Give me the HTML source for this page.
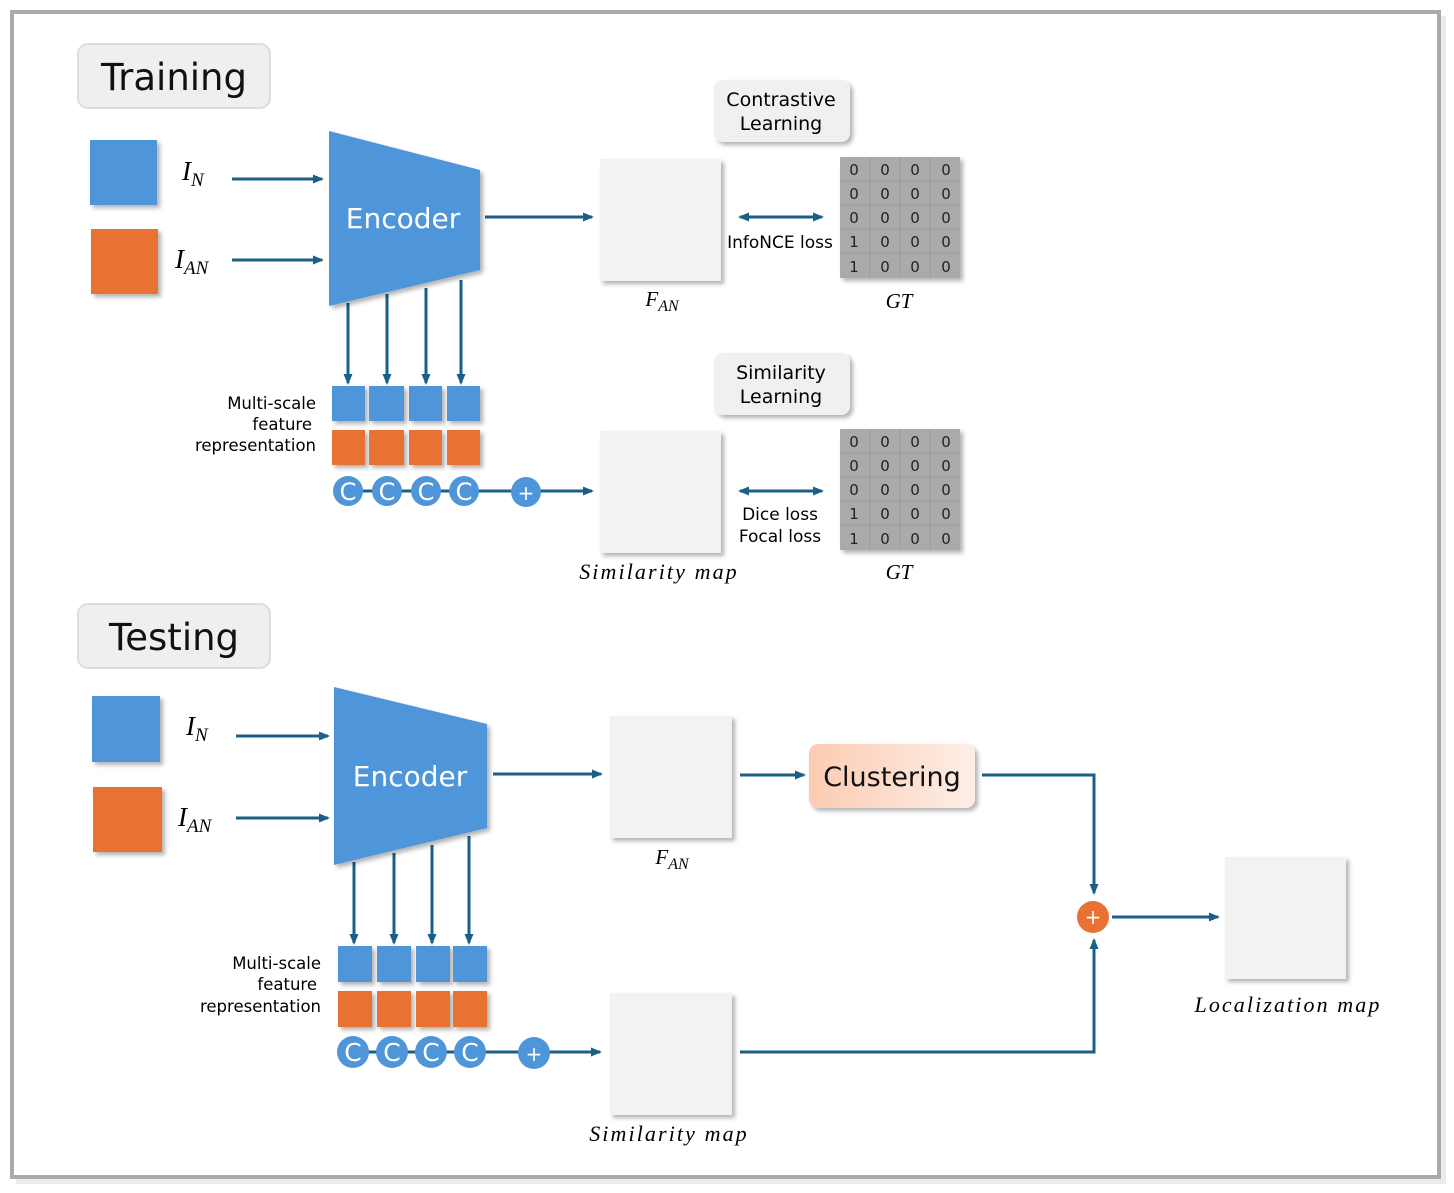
<!DOCTYPE html>
<html><head><meta charset="utf-8"><style>
body{margin:0;background:#fff;width:1454px;height:1193px;overflow:hidden}
svg{display:block}
.s{font-family:"DejaVu Sans","Liberation Sans",sans-serif}
.m{font-family:"Liberation Serif",serif;font-style:italic}
.w{letter-spacing:2.1px}
</style></head><body>
<svg width="1454" height="1193" viewBox="0 0 1454 1193" xmlns="http://www.w3.org/2000/svg">
<defs>
<marker id="a" markerWidth="11" markerHeight="11" refX="9" refY="5.5" orient="auto" markerUnits="userSpaceOnUse"><path d="M0,1 L11,5.5 L0,10 Z" fill="#1a5f85"/></marker>
<marker id="b" markerWidth="11" markerHeight="11" refX="2" refY="5.5" orient="auto" markerUnits="userSpaceOnUse"><path d="M11,1 L0,5.5 L11,10 Z" fill="#1a5f85"/></marker>
<filter id="sh" x="-20%" y="-20%" width="150%" height="150%"><feDropShadow dx="3" dy="3" stdDeviation="2" flood-color="#000" flood-opacity="0.3"/></filter>
<linearGradient id="g" x1="0" x2="1"><stop offset="0" stop-color="#fcccb2"/><stop offset="1" stop-color="#fdeee6"/></linearGradient>
</defs>
<rect x="16" y="16" width="1430" height="1168" fill="#ddd" opacity="0.6"/>
<rect x="12" y="12" width="1427" height="1165" fill="#fff" stroke="#aaa" stroke-width="4"/>

<g stroke="#1a5f85" stroke-width="3" fill="none">
<line x1="232" y1="179" x2="322" y2="179" marker-end="url(#a)"/>
<line x1="232" y1="260" x2="322" y2="260" marker-end="url(#a)"/>
<line x1="485" y1="217" x2="592" y2="217" marker-end="url(#a)"/>
<line x1="740" y1="217" x2="822" y2="217" marker-end="url(#a)" marker-start="url(#b)"/>
<line x1="348" y1="303" x2="348" y2="383" marker-end="url(#a)"/>
<line x1="387" y1="294" x2="387" y2="383" marker-end="url(#a)"/>
<line x1="426" y1="288" x2="426" y2="383" marker-end="url(#a)"/>
<line x1="461" y1="280" x2="461" y2="383" marker-end="url(#a)"/>
<line x1="348" y1="491" x2="592" y2="491" marker-end="url(#a)"/>
<line x1="740" y1="491" x2="822" y2="491" marker-end="url(#a)" marker-start="url(#b)"/>
<line x1="236" y1="736" x2="328" y2="736" marker-end="url(#a)"/>
<line x1="236" y1="818" x2="328" y2="818" marker-end="url(#a)"/>
<line x1="493" y1="774" x2="601" y2="774" marker-end="url(#a)"/>
<line x1="740" y1="775" x2="804" y2="775" marker-end="url(#a)"/>
<path d="M982,775 H1094 V893" marker-end="url(#a)"/>
<path d="M740,1052 H1094 V940" marker-end="url(#a)"/>
<line x1="1112" y1="917" x2="1218" y2="917" marker-end="url(#a)"/>
<line x1="354" y1="862" x2="354" y2="943" marker-end="url(#a)"/>
<line x1="394" y1="853" x2="394" y2="943" marker-end="url(#a)"/>
<line x1="432" y1="845" x2="432" y2="943" marker-end="url(#a)"/>
<line x1="469" y1="836" x2="469" y2="943" marker-end="url(#a)"/>
<line x1="353" y1="1052" x2="600" y2="1052" marker-end="url(#a)"/>
</g>

<rect x="78" y="44" width="192" height="64" rx="10" fill="#efefef" stroke="#ddd" stroke-width="2"/>
<text x="174" y="90" class="s" font-size="37" text-anchor="middle" fill="#111">Training</text>
<rect x="90" y="140" width="67" height="65" fill="#4f95d9" filter="url(#sh)"/>
<rect x="91" y="229" width="67" height="65" fill="#e87233" filter="url(#sh)"/>
<text x="182" y="180" class="m" font-size="27">I<tspan font-size="19" dy="6">N</tspan></text>
<text x="175" y="268" class="m" font-size="27">I<tspan font-size="19" dy="6">AN</tspan></text>
<polygon points="329,131 480,170 480,270 329,306" fill="#4f95d9" filter="url(#sh)"/>
<text x="403" y="228" class="s" font-size="28" fill="#fff" text-anchor="middle">Encoder</text>
<rect x="600" y="159" width="121" height="122" fill="#f2f2f2" filter="url(#sh)"/>
<text x="662" y="306" class="m" font-size="21" text-anchor="middle">F<tspan font-size="16" dy="5">AN</tspan></text>
<rect x="714" y="80" width="136" height="62" rx="9" fill="#f0f0f0" filter="url(#sh)"/>
<text x="781" y="106" class="s" font-size="19" text-anchor="middle">Contrastive</text>
<text x="781" y="130" class="s" font-size="19" text-anchor="middle">Learning</text>
<text x="780" y="248" class="s" font-size="17" text-anchor="middle">InfoNCE loss</text>
<g id="mat">
<rect x="840" y="157" width="120" height="121" fill="#aaaaaa" filter="url(#sh)"/>
<g stroke="#9a9a9a" stroke-width="1"><line x1="870" y1="157" x2="870" y2="278"/><line x1="900" y1="157" x2="900" y2="278"/><line x1="930" y1="157" x2="930" y2="278"/>
<line x1="840" y1="181" x2="960" y2="181"/><line x1="840" y1="205" x2="960" y2="205"/><line x1="840" y1="229" x2="960" y2="229"/><line x1="840" y1="253" x2="960" y2="253"/></g>
<g class="s" font-size="15" text-anchor="middle" fill="#222">
<text x="854" y="175">0</text><text x="885" y="175">0</text><text x="915" y="175">0</text><text x="946" y="175">0</text>
<text x="854" y="199">0</text><text x="885" y="199">0</text><text x="915" y="199">0</text><text x="946" y="199">0</text>
<text x="854" y="223">0</text><text x="885" y="223">0</text><text x="915" y="223">0</text><text x="946" y="223">0</text>
<text x="854" y="247">1</text><text x="885" y="247">0</text><text x="915" y="247">0</text><text x="946" y="247">0</text>
<text x="854" y="272">1</text><text x="885" y="272">0</text><text x="915" y="272">0</text><text x="946" y="272">0</text>
</g></g>
<text x="899" y="308" class="m" font-size="21" text-anchor="middle">GT</text>

<text x="316" y="409" class="s" font-size="16.5" text-anchor="end">Multi-scale</text>
<text x="312" y="430" class="s" font-size="16.5" text-anchor="end">feature</text>
<text x="316" y="451" class="s" font-size="16.5" text-anchor="end">representation</text>
<g filter="url(#sh)">
<rect x="332" y="386" width="33" height="35" fill="#4f95d9"/><rect x="369" y="386" width="35" height="35" fill="#4f95d9"/><rect x="409" y="386" width="33" height="35" fill="#4f95d9"/><rect x="447" y="386" width="33" height="35" fill="#4f95d9"/>
<rect x="332" y="430" width="33" height="35" fill="#e87233"/><rect x="369" y="430" width="35" height="35" fill="#e87233"/><rect x="409" y="430" width="33" height="35" fill="#e87233"/><rect x="447" y="430" width="33" height="35" fill="#e87233"/>
</g>
<g fill="#4f95d9"><circle cx="348" cy="491" r="15"/><circle cx="387" cy="491" r="15"/><circle cx="426" cy="491" r="15"/><circle cx="464" cy="491" r="15"/><circle cx="526" cy="492" r="15"/></g>
<g class="s" font-size="24" fill="#fff" text-anchor="middle"><text x="348" y="500">C</text><text x="387" y="500">C</text><text x="426" y="500">C</text><text x="464" y="500">C</text><text x="526" y="500" font-size="20">+</text></g>
<rect x="600" y="431" width="121" height="122" fill="#f2f2f2" filter="url(#sh)"/>
<text x="659" y="579" class="m w" font-size="22" text-anchor="middle">Similarity map</text>
<rect x="714" y="353" width="136" height="62" rx="9" fill="#f0f0f0" filter="url(#sh)"/>
<text x="781" y="379" class="s" font-size="19" text-anchor="middle">Similarity</text>
<text x="781" y="403" class="s" font-size="19" text-anchor="middle">Learning</text>
<text x="780" y="520" class="s" font-size="17" text-anchor="middle">Dice loss</text>
<text x="780" y="542" class="s" font-size="17" text-anchor="middle">Focal loss</text>
<use href="#mat" y="272"/>
<text x="899" y="579" class="m" font-size="21" text-anchor="middle">GT</text>

<rect x="78" y="604" width="192" height="64" rx="10" fill="#efefef" stroke="#ddd" stroke-width="2"/>
<text x="174" y="650" class="s" font-size="37" text-anchor="middle" fill="#111">Testing</text>
<rect x="92" y="696" width="68" height="66" fill="#4f95d9" filter="url(#sh)"/>
<rect x="93" y="787" width="69" height="65" fill="#e87233" filter="url(#sh)"/>
<text x="186" y="735" class="m" font-size="27">I<tspan font-size="19" dy="6">N</tspan></text>
<text x="178" y="826" class="m" font-size="27">I<tspan font-size="19" dy="6">AN</tspan></text>
<polygon points="334,687 487,724 487,828 334,865" fill="#4f95d9" filter="url(#sh)"/>
<text x="410" y="786" class="s" font-size="28" fill="#fff" text-anchor="middle">Encoder</text>
<rect x="610" y="716" width="122" height="122" fill="#f2f2f2" filter="url(#sh)"/>
<text x="672" y="864" class="m" font-size="21" text-anchor="middle">F<tspan font-size="16" dy="5">AN</tspan></text>
<rect x="809" y="744" width="166" height="64" rx="9" fill="url(#g)" filter="url(#sh)"/>
<text x="892" y="786" class="s" font-size="27" text-anchor="middle" fill="#111">Clustering</text>
<circle cx="1093" cy="917" r="16" fill="#e87233"/>
<text x="1093" y="924" class="s" font-size="20" fill="#fff" text-anchor="middle">+</text>
<rect x="1225" y="857" width="121" height="122" fill="#f2f2f2" filter="url(#sh)"/>
<text x="1288" y="1012" class="m w" font-size="22" text-anchor="middle">Localization map</text>

<text x="321" y="969" class="s" font-size="16.5" text-anchor="end">Multi-scale</text>
<text x="317" y="990" class="s" font-size="16.5" text-anchor="end">feature</text>
<text x="321" y="1012" class="s" font-size="16.5" text-anchor="end">representation</text>
<g filter="url(#sh)">
<rect x="338" y="946" width="34" height="36" fill="#4f95d9"/><rect x="377" y="946" width="34" height="36" fill="#4f95d9"/><rect x="416" y="946" width="34" height="36" fill="#4f95d9"/><rect x="453" y="946" width="34" height="36" fill="#4f95d9"/>
<rect x="338" y="991" width="34" height="36" fill="#e87233"/><rect x="377" y="991" width="34" height="36" fill="#e87233"/><rect x="416" y="991" width="34" height="36" fill="#e87233"/><rect x="453" y="991" width="34" height="36" fill="#e87233"/>
</g>
<g fill="#4f95d9"><circle cx="353" cy="1052" r="16"/><circle cx="392" cy="1052" r="16"/><circle cx="431" cy="1052" r="16"/><circle cx="470" cy="1052" r="16"/><circle cx="534" cy="1053" r="16"/></g>
<g class="s" font-size="25" fill="#fff" text-anchor="middle"><text x="353" y="1061">C</text><text x="392" y="1061">C</text><text x="431" y="1061">C</text><text x="470" y="1061">C</text><text x="534" y="1061" font-size="20">+</text></g>
<rect x="610" y="993" width="122" height="122" fill="#f2f2f2" filter="url(#sh)"/>
<text x="669" y="1141" class="m w" font-size="22" text-anchor="middle">Similarity map</text>
</svg>
</body></html>
